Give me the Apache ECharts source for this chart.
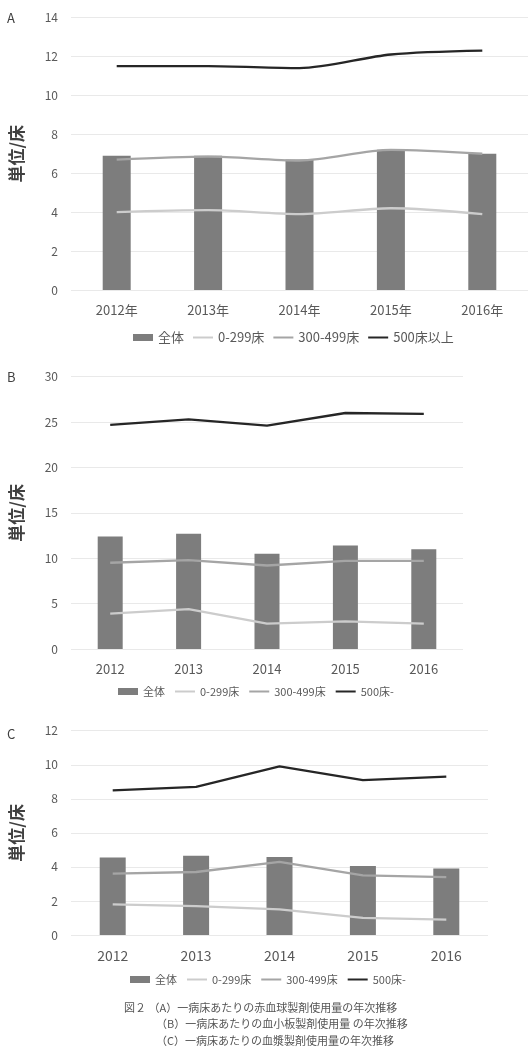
<!DOCTYPE html>
<html>
<head>
<meta charset="utf-8">
<script src="https://cdn.jsdelivr.net/npm/echarts@6/dist/echarts.min.js"></script>
<style>
  html, body { margin: 0; padding: 0; background: #fff; }
  #chart { width: 531px; height: 1048px; }
</style>
</head>
<body>
<div id="chart"></div>
<script>
// categories
var yearsA = ["2012年", "2013年", "2014年", "2015年", "2016年"];
var yearsBC = ["2012", "2013", "2014", "2015", "2016"];

// A: 赤血球製剤
var totalA = [6.9, 6.9, 6.7, 7.2, 7.0];
var small_A = [4.0, 4.1, 3.9, 4.2, 3.9];
var mid_A = [6.7, 6.85, 6.65, 7.2, 7.0];
var large_A = [11.5, 11.5, 11.4, 12.1, 12.3];

// B: 血小板製剤
var totalB = [12.4, 12.7, 10.5, 11.4, 11.0];
var small_B = [3.9, 4.4, 2.8, 3.05, 2.8];
var mid_B = [9.5, 9.8, 9.2, 9.7, 9.7];
var large_B = [24.7, 25.3, 24.6, 26.0, 25.9];

// C: 血漿製剤
var totalC = [4.55, 4.65, 4.58, 4.05, 3.9];
var small_C = [1.8, 1.7, 1.5, 1.0, 0.9];
var mid_C = [3.6, 3.7, 4.3, 3.5, 3.4];
var large_C = [8.5, 8.7, 9.9, 9.1, 9.3];

// y axis ticks
var yTicksA = { min: 0, max: 14, interval: 2 };
var yTicksB = { min: 0, max: 30, interval: 5 };
var yTicksC = { min: 0, max: 12, interval: 2 };

var captionLines = [
  "図２ （A）一病床あたりの赤血球製剤使用量の年次推移",
  "（B）一病床あたりの血小板製剤使用量 の年次推移",
  "（C）一病床あたりの血漿製剤使用量の年次推移"
];

var FONT = "'Noto Sans CJK JP', 'Noto Sans', sans-serif";
var cBar = "#7d7d7d", cSmall = "#cccccc", cMid = "#a5a5a5", cLarge = "#262626";

var myChart = echarts.init(document.getElementById("chart"));

function yAxis(idx, t) {
  return {
    type: "value",
    gridIndex: idx,
    min: t.min, max: t.max, interval: t.interval,
    name: "単位/床",
    nameLocation: "middle",
    nameGap: 46,
    nameRotate: 90,
    nameTextStyle: { fontFamily: FONT, fontSize: 17, fontWeight: "bold", color: "#404040" },
    axisLine: { show: false },
    axisTick: { show: false },
    axisLabel: { color: "#595959", fontFamily: FONT, fontSize: 12, margin: 13 },
    splitLine: { lineStyle: { color: "#e9e9e9", width: 1 } }
  };
}

function xAxis(idx, data, fs) {
  return {
    type: "category",
    gridIndex: idx,
    data: data,
    axisLine: { show: false },
    axisTick: { show: false },
    axisLabel: { color: "#595959", fontFamily: FONT, fontSize: fs, margin: 14 }
  };
}

function seriesSet(idx, barW, total, s, m, l, lname, smooth) {
  return [
    { name: "全体", type: "bar", xAxisIndex: idx, yAxisIndex: idx, barWidth: barW,
      itemStyle: { color: cBar }, data: total },
    { name: "0-299床", type: "line", xAxisIndex: idx, yAxisIndex: idx, symbol: "none", smooth: smooth,
      lineStyle: { color: cSmall, width: 2.3 }, itemStyle: { color: cSmall }, data: s },
    { name: "300-499床", type: "line", xAxisIndex: idx, yAxisIndex: idx, symbol: "none", smooth: smooth,
      lineStyle: { color: cMid, width: 2.3 }, itemStyle: { color: cMid }, data: m },
    { name: lname, type: "line", xAxisIndex: idx, yAxisIndex: idx, symbol: "none", smooth: smooth,
      lineStyle: { color: cLarge, width: 2.3 }, itemStyle: { color: cLarge }, data: l }
  ];
}

function legend(left, top, fs, lname, gap) {
  var hide = { opacity: 0 };
  return {
    left: left, top: top, padding: 0,
    itemWidth: 20, itemHeight: 7, itemGap: gap,
    textStyle: { color: "#595959", fontFamily: FONT, fontSize: fs },
    data: [
      { name: "全体", icon: "rect" },
      { name: "0-299床", itemStyle: hide },
      { name: "300-499床", itemStyle: hide },
      { name: lname, itemStyle: hide }
    ]
  };
}

var graphics = [
  { type: "text", left: 7, top: 12, style: { text: "A", font: "13px " + FONT, fill: "#404040" } },
  { type: "text", left: 7, top: 371, style: { text: "B", font: "13px " + FONT, fill: "#404040" } },
  { type: "text", left: 7, top: 728, style: { text: "C", font: "13px " + FONT, fill: "#404040" } }
];
var capX = [124, 156, 156], capY = [1002, 1018, 1035];
captionLines.forEach(function (t, i) {
  graphics.push({ type: "text", left: capX[i], top: capY[i],
    style: { text: t, font: "11px " + FONT, fill: "#555555" } });
});

myChart.setOption({
  animation: false,
  grid: [
    { left: 71, width: 457, top: 17.5, height: 272.5 },
    { left: 71, width: 392, top: 376.7, height: 272.3 },
    { left: 71, width: 417, top: 730.7, height: 204.3 }
  ],
  xAxis: [xAxis(0, yearsA, 13), xAxis(1, yearsBC, 13), xAxis(2, yearsBC, 14)],
  yAxis: [yAxis(0, yTicksA), yAxis(1, yTicksB), yAxis(2, yTicksC)],
  legend: [
    legend(133, 331, 13, "500床以上", 8),
    legend(118, 686, 11, "500床-", 9),
    legend(130, 974, 11, "500床-", 9)
  ],
  graphic: graphics,
  series: []
    .concat(seriesSet(0, 28, totalA, small_A, mid_A, large_A, "500床以上", 0.3))
    .concat(seriesSet(1, 25, totalB, small_B, mid_B, large_B, "500床-", false))
    .concat(seriesSet(2, 26, totalC, small_C, mid_C, large_C, "500床-", false))
});

window.addEventListener("resize", function () {
  myChart.resize();
});
</script>
</body>
</html>
